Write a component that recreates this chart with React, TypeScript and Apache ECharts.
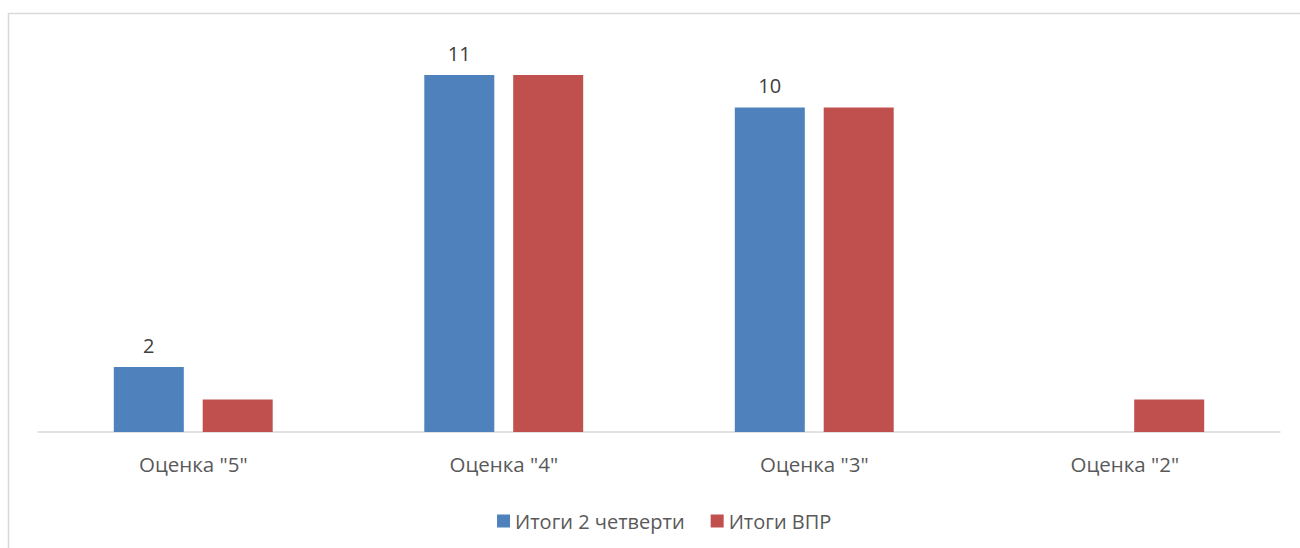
import React, { useEffect, useRef } from "react";
import * as echarts from "echarts";

const categories = ['Оценка "5"', 'Оценка "4"', 'Оценка "3"', 'Оценка "2"'];
const seriesNames = ["Итоги 2 четверти", "Итоги ВПР"];
const quarterValues = [2, 11, 10, 0];
const vprValues = [1, 11, 10, 1];

export default function App() {
  const ref = useRef<HTMLDivElement>(null);
  useEffect(() => {
    if (!ref.current) return;
    const chart = echarts.init(ref.current, null, { renderer: "svg" });
    const font = "'Open Sans', 'Noto Sans', sans-serif";
    chart.setOption({
      animation: false,
      backgroundColor: "#ffffff",
      textStyle: { fontFamily: font },
      graphic: [
        {
          type: "rect",
          shape: { x: 8.5, y: 13.5, width: 1400, height: 600 },
          style: { fill: "none", stroke: "#d9d9d9", lineWidth: 1.5 },
          silent: true,
        },
      ],
      grid: { left: 38, right: 20, top: 75, bottom: 116, containLabel: false },
      legend: {
        data: seriesNames,
        left: 492,
        top: 506,
        itemWidth: 13,
        itemHeight: 13,
        itemGap: 26,
        icon: "rect",
        textStyle: { color: "#595959", fontSize: 20, fontFamily: font },
      },
      xAxis: {
        type: "category",
        data: categories,
        axisLine: { lineStyle: { color: "#d9d9d9", width: 1.5 } },
        axisTick: { show: false },
        axisLabel: { color: "#595959", fontSize: 20.5, margin: 21, fontFamily: font },
      },
      yAxis: {
        type: "value",
        min: 0,
        max: 11,
        show: false,
        splitLine: { show: false },
      },
      series: [
        {
          name: seriesNames[0],
          type: "bar",
          data: quarterValues.map((v) => (v === 0 ? null : v)),
          barWidth: 70,
          barGap: "27%",
          itemStyle: { color: "#4f81bd" },
          label: {
            show: true,
            position: "top",
            distance: 12,
            color: "#404040",
            fontSize: 20,
            fontFamily: font,
          },
        },
        {
          name: seriesNames[1],
          type: "bar",
          data: vprValues,
          barWidth: 70,
          itemStyle: { color: "#c0504d" },
        },
      ],
    });
    return () => chart.dispose();
  }, []);
  return (
    <div
      ref={ref}
      style={{ position: "absolute", left: 0, top: 0, width: 1300, height: 548 }}
    />
  );
}
